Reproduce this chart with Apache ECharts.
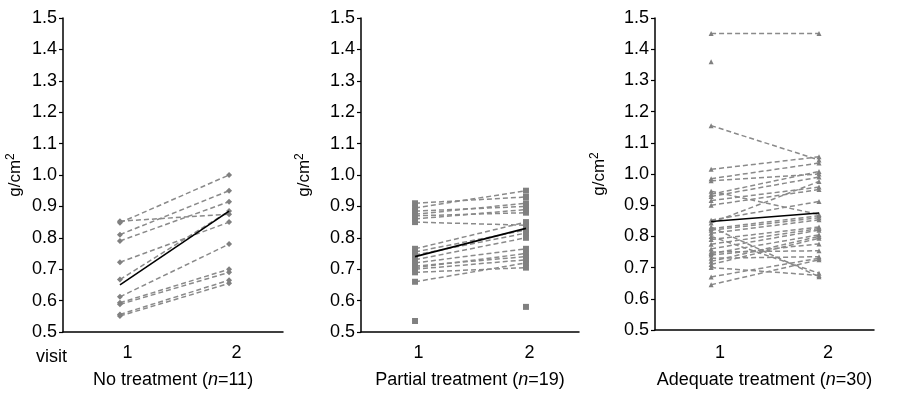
<!DOCTYPE html>
<html>
<head>
<meta charset="utf-8">
<script src="https://cdn.jsdelivr.net/npm/echarts@6/dist/echarts.min.js"></script>
<style>
  html, body { margin: 0; padding: 0; background: #fff; }
  #chart { width: 906px; height: 398px; }
</style>
</head>
<body>
<div id="chart"></div>
<script>
// visits on the x axis
const visits = [1, 2];
const yTicks = [0.5, 0.6, 0.7, 0.8, 0.9, 1.0, 1.1, 1.2, 1.3, 1.4, 1.5];

// No treatment (n=11): one subject per index, visit 1 / visit 2
const noV1 = [0.853, 0.848, 0.81, 0.79, 0.722, 0.667, 0.612, 0.593, 0.588, 0.556, 0.551];
const noV2 = [0.875, 1.0, 0.95, 0.915, 0.85, 0.885, 0.78, 0.70, 0.69, 0.665, 0.655];
const noMean = [0.65, 0.885];

// Partial treatment (n=19), null = missing visit
const partV1 = [0.91, 0.895, 0.885, 0.875, 0.87, 0.86, 0.85, 0.765, 0.755, 0.745, 0.73, 0.72, 0.71, 0.705, 0.70, 0.69, 0.66, 0.535, null];
const partV2 = [0.93, 0.95, 0.90, 0.91, 0.88, 0.89, 0.84, 0.85, 0.825, 0.815, 0.80, 0.765, 0.74, 0.75, 0.73, 0.705, 0.72, null, 0.58];
const partMean = [0.74, 0.83];

// Adequate treatment (n=30)
const adqV1 = [1.45, 1.155, 1.015, 0.985, 0.978, 0.945, 0.935, 0.928, 0.915, 0.90, 0.852, 0.843,
  0.83, 0.825, 0.82, 0.81, 0.80, 0.79, 0.775, 0.76, 0.75, 0.745, 0.74, 0.73, 0.72, 0.71, 0.70, 0.67, 0.645, 1.36];
const adqV2 = [1.45, 1.045, 1.055, 1.035, 1.0, 0.87, 1.008, 0.99, 0.958, 0.95, 0.912, 0.976,
  0.671, 0.866, 0.86, 0.853, 0.682, 0.83, 0.825, 0.82, 0.754, 0.805, 0.776, 0.735, 0.80, 0.794, 0.675, 0.73, 0.725, null];
const adqMean = [0.848, 0.875];

const titles = ['No treatment (', 'Partial treatment (', 'Adequate treatment ('];
const counts = ['11', '19', '30'];

const FONT = "Arial, 'Liberation Sans', sans-serif";
const grey = '#8a8a8a';

const panels = [
  { v1: noV1, v2: noV2, mean: noMean, symbol: 'diamond', size: 6,
    grid: { left: 63, top: 18, width: 220, height: 314 }, xr: [0.478, 2.494], pad: 15, nameGap: 38, margin: 12, titleGap: 39 },
  { v1: partV1, v2: partV2, mean: partMean, symbol: 'rect', size: 6,
    grid: { left: 361, top: 18, width: 218, height: 314 }, xr: [0.513, 2.478], pad: 7, nameGap: 47, margin: 12, titleGap: 39 },
  { v1: adqV1, v2: adqV2, mean: adqMean, symbol: 'triangle', size: 5,
    grid: { left: 655, top: 18, width: 219, height: 312 }, xr: [0.48, 2.51], pad: 18, nameGap: 46, margin: 14, titleGap: 41 }
];

const grids = [], xAxes = [], yAxes = [], series = [];
panels.forEach(function (p, i) {
  grids.push(Object.assign({ outerBoundsMode: 'none', containLabel: false }, p.grid));
  xAxes.push({
    type: 'value', gridIndex: i, min: p.xr[0], max: p.xr[1],
    axisLine: { lineStyle: { color: '#000', width: 1.5 } },
    axisTick: { show: false },
    splitLine: { show: false },
    axisLabel: { customValues: visits, color: '#000', fontSize: 18, fontFamily: FONT,
      margin: p.margin, padding: [0, 0, 0, p.pad] },
    name: '{a|' + titles[i] + '}{i|n}{a|=' + counts[i] + ')}',
    nameLocation: 'middle', nameGap: p.titleGap,
    nameTextStyle: { rich: {
      a: { fontSize: 18, fontFamily: FONT, color: '#000' },
      i: { fontSize: 18, fontFamily: FONT, color: '#000', fontStyle: 'italic' }
    } }
  });
  yAxes.push({
    type: 'value', gridIndex: i, min: 0.5, max: 1.5, interval: 0.1,
    axisLine: { show: true, lineStyle: { color: '#000', width: 1.5 } },
    axisTick: { show: true, length: 4, lineStyle: { color: '#000', width: 1.2 } },
    splitLine: { show: false },
    axisLabel: { color: '#000', fontSize: 18, fontFamily: FONT, margin: 6,
      formatter: function (v) { return v.toFixed(1); } },
    name: '{a|g/cm}{s|2}', nameLocation: 'middle', nameGap: p.nameGap, nameRotate: 90,
    nameTextStyle: { rich: {
      a: { fontSize: 17, fontFamily: FONT, color: '#000' },
      s: { fontSize: 12, fontFamily: FONT, color: '#000', verticalAlign: 'top', padding: [0, 0, 8, 0] }
    } }
  });
  p.v1.forEach(function (a, k) {
    const b = p.v2[k];
    const data = [];
    if (a != null) data.push([visits[0], a]);
    if (b != null) data.push([visits[1], b]);
    series.push({
      type: 'line', xAxisIndex: i, yAxisIndex: i, data: data,
      symbol: p.symbol, symbolSize: p.size, showSymbol: true, animation: false, silent: true,
      itemStyle: { color: '#808080' },
      lineStyle: { color: grey, width: 1.5, type: [5, 3] }
    });
  });
  series.push({
    type: 'line', xAxisIndex: i, yAxisIndex: i, z: 5,
    data: [[visits[0], p.mean[0]], [visits[1], p.mean[1]]],
    symbol: 'none', animation: false, silent: true,
    lineStyle: { color: '#000', width: 1.6 }
  });
});

const chart = echarts.init(document.getElementById('chart'));
chart.setOption({
  backgroundColor: '#fff',
  animation: false,
  grid: grids,
  xAxis: xAxes,
  yAxis: yAxes,
  series: series,
  graphic: [{
    type: 'text', left: 36, top: 348,
    style: { text: 'visit', fontSize: 18, fontFamily: FONT, fill: '#000' }
  }]
});
</script>
</body>
</html>
